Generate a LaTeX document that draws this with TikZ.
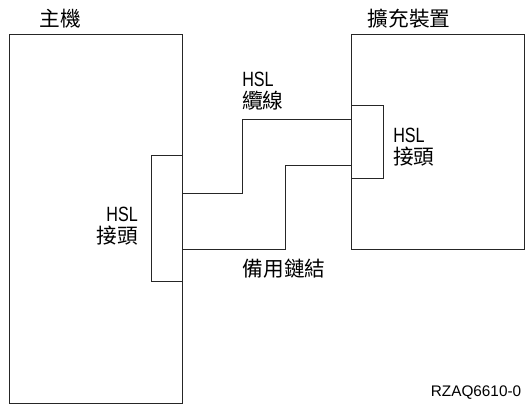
\documentclass[tikz,border=0pt]{standalone}
\usepackage{fontspec}
\setmainfont{Liberation Sans}
\newfontfamily\cjk{Noto Sans CJK TC}
\newfontfamily\narrow[FakeStretch=0.78]{Liberation Sans}
\tikzset{
	unit/.style={draw=black!85, line width=0.6pt, inner sep=0pt, outer sep=0pt},
	link/.style={draw=black!85, line width=0.6pt},
	label/.style={inner sep=0pt, font=\fontsize{15.5}{16.5}\selectfont}
}

\begin{document}
\begin{tikzpicture}[x=0.75pt, y=-0.75pt]
		\useasboundingbox (0,0) rectangle (525,406);
		% host and expansion unit
		\node[unit, minimum width=129.75pt, minimum height=276.75pt] (host) at (95.5,218.5) {};
		\node[unit, minimum width=129.75pt, minimum height=161.25pt] (unit) at (437.5,141.5) {};
		\node[label] (hostname) at (60,19) {\cjk 主機};
		\node[label] (unitname) at (409,19) {\cjk 擴充裝置};
		% HSL connectors
		\node[unit, minimum width=23.25pt, minimum height=94.5pt] (hostport) at (166.5,218) {};
		\node[unit, minimum width=24pt, minimum height=54.75pt] (unitport) at (367,141.5) {};
		\node[label, anchor=north east, align=right] (hostportname) at (138,207) {\narrow HSL\\\cjk 接頭};
		\node[label, anchor=north west, align=left] (unitportname) at (393,128) {\narrow HSL\\\cjk 接頭};
		% HSL cable
		\draw[link] (hostport.east |- 0,193) -| (242,119) -- (unitport.west |- 0,119);
		\node[label, anchor=north west, align=left] (cablename) at (242,72) {\narrow HSL\\\cjk 纜線};
		% backup link
		\draw[link] (hostport.east |- 0,249) -| (285,165) -- (unitport.west |- 0,165);
		\node[label] (backupname) at (284,269) {\cjk 備用鏈結};
		% figure number
		\node[inner sep=0pt, font=\fontsize{11.5}{13}\selectfont] (figid) at (476,393) {RZAQ6610-0};
	\end{tikzpicture}
\end{document}
